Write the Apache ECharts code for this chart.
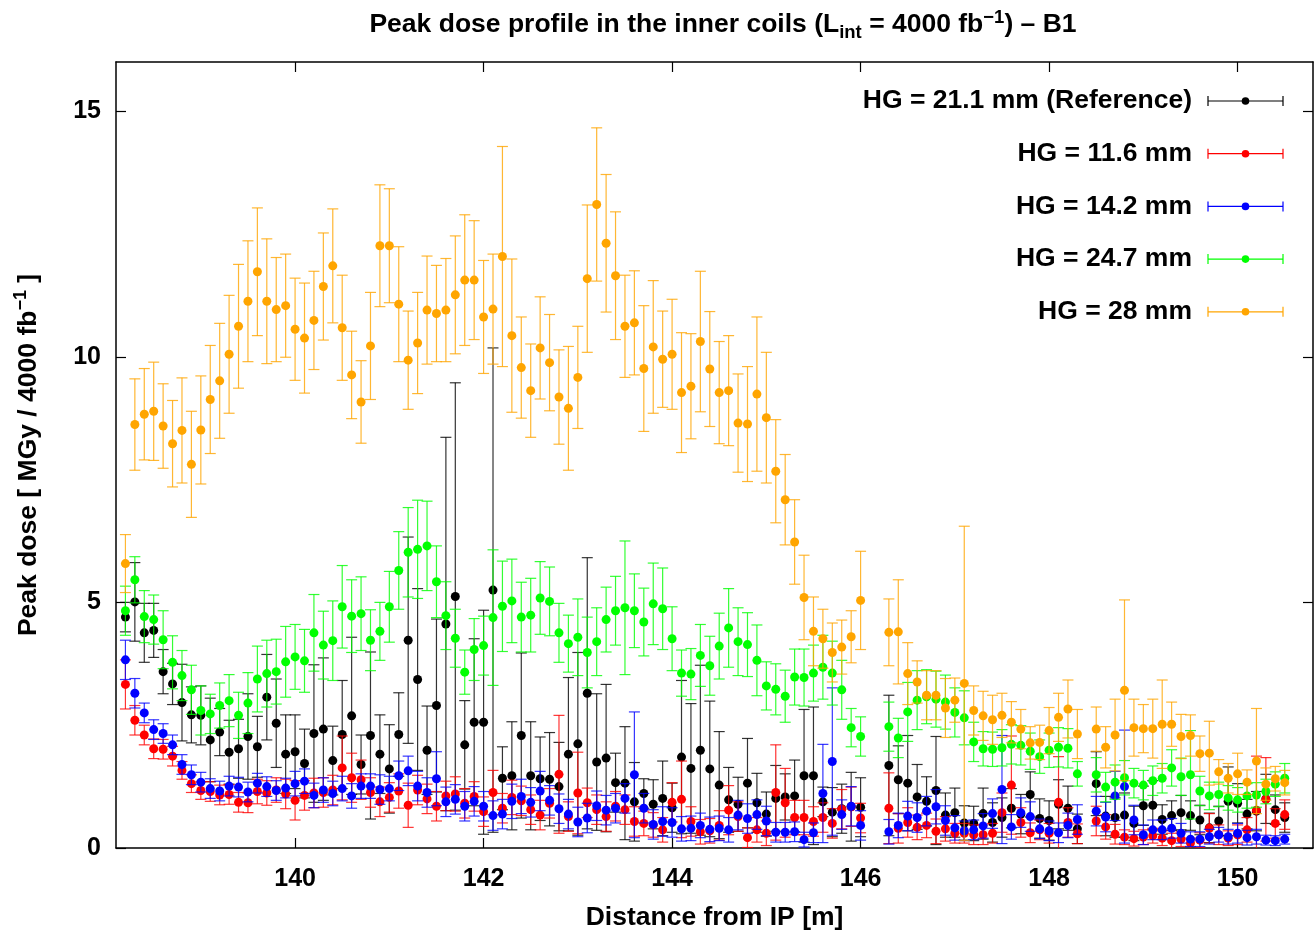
<!DOCTYPE html>
<html>
<head>
<meta charset="utf-8">
<title>Peak dose profile - B1</title>
<script src="https://cdn.jsdelivr.net/npm/echarts@6/dist/echarts.min.js"></script>
<style>
  html, body { margin: 0; padding: 0; background: #fff; }
  #main { width: 1315px; height: 931px; }
</style>
</head>
<body>
<div id="main"></div>
<script>
// bin centres along the beam line [m]
const positions = [
  138.2, 138.3, 138.4, 138.5, 138.6, 138.7, 138.8, 138.9, 139.0, 139.1,
  139.2, 139.3, 139.4, 139.5, 139.6, 139.7, 139.8, 139.9, 140.0, 140.1,
  140.2, 140.3, 140.4, 140.5, 140.6, 140.7, 140.8, 140.9, 141.0, 141.1,
  141.2, 141.3, 141.4, 141.5, 141.6, 141.7, 141.8, 141.9, 142.0, 142.1,
  142.2, 142.3, 142.4, 142.5, 142.6, 142.7, 142.8, 142.9, 143.0, 143.1,
  143.2, 143.3, 143.4, 143.5, 143.6, 143.7, 143.8, 143.9, 144.0, 144.1,
  144.2, 144.3, 144.4, 144.5, 144.6, 144.7, 144.8, 144.9, 145.0, 145.1,
  145.2, 145.3, 145.4, 145.5, 145.6, 145.7, 145.8, 145.9, 146.0,
  146.3, 146.4, 146.5, 146.6, 146.7, 146.8, 146.9, 147.0, 147.1, 147.2,
  147.3, 147.4, 147.5, 147.6, 147.7, 147.8, 147.9, 148.0, 148.1, 148.2, 148.3,
  148.5, 148.6, 148.7, 148.8, 148.9, 149.0, 149.1, 149.2, 149.3, 149.4,
  149.5, 149.6, 149.7, 149.8, 149.9, 150.0, 150.1, 150.2, 150.3, 150.4, 150.5
]

// HG = 21.1 mm (Reference)
const blackDose = [
  4.70, 5.01, 4.38, 4.43, 3.59, 3.34, 2.96, 2.71, 2.70, 2.20,
  2.36, 1.95, 2.02, 2.27, 2.06, 3.07, 2.54, 1.91, 1.96, 1.72,
  2.33, 2.42, 1.78, 2.31, 2.69, 1.70, 2.29, 1.91, 1.61, 2.31,
  4.23, 3.43, 1.99, 2.90, 4.56, 5.12, 2.10, 2.56, 2.56, 5.25,
  1.42, 1.47, 2.29, 1.47, 1.41, 1.40, 1.25, 1.91, 2.12, 3.15,
  1.75, 1.83, 1.33, 1.32, 0.94, 1.11, 0.89, 1.01, 0.82, 1.85,
  1.62, 1.99, 1.61, 1.28, 0.98, 0.89, 1.32, 0.92, 0.69, 1.01,
  1.04, 1.06, 1.47, 1.47, 0.94, 0.73, 0.80, 0.84, 0.83,
  1.68, 1.39, 1.32, 1.04, 0.95, 1.17, 0.67, 0.72, 0.51, 0.50,
  0.70, 0.52, 0.62, 0.81, 0.69, 1.09, 0.60, 0.56, 0.89, 0.81, 0.39,
  1.31, 0.65, 0.62, 0.67, 0.50, 0.86, 0.87, 0.58, 0.66, 0.72,
  0.66, 0.57, 0.41, 0.55, 0.95, 0.91, 0.69, 0.75, 1.00, 0.78, 0.62
]
const blackErr = [
  0.30, 0.80, 0.60, 0.55, 0.45, 0.42, 0.78, 0.57, 0.60, 0.85,
  0.48, 0.65, 0.60, 0.87, 0.62, 0.87, 0.90, 0.80, 0.75, 0.70,
  1.40, 1.45, 0.70, 1.10, 1.60, 0.60, 1.70, 0.80, 0.90, 0.85,
  2.10, 1.85, 0.90, 1.76, 3.80, 4.35, 0.90, 1.70, 2.28, 4.93,
  0.64, 1.10, 1.68, 1.10, 0.85, 0.95, 0.90, 1.56, 1.86, 2.76,
  1.39, 1.50, 0.60, 1.15, 0.80, 0.30, 0.50, 0.76, 0.50, 1.56,
  1.32, 1.73, 1.38, 1.09, 0.66, 0.55, 0.91, 0.60, 0.45, 0.67,
  0.47, 0.73, 1.35, 1.40, 0.30, 0.50, 0.50, 0.70, 0.60,
  1.43, 0.69, 0.97, 0.66, 0.50, 1.10, 0.45, 0.50, 0.35, 0.35,
  0.52, 0.40, 0.40, 0.40, 0.40, 0.46, 0.40, 0.40, 0.50, 0.45, 0.30,
  0.65, 0.40, 0.40, 0.45, 0.35, 0.40, 0.50, 0.30, 0.30, 0.35,
  0.30, 0.30, 0.30, 0.30, 0.70, 0.40, 0.30, 0.40, 0.50, 0.30, 0.30
]

// HG = 11.6 mm
const redDose = [
  3.33, 2.60, 2.30, 2.02, 2.01, 1.87, 1.58, 1.31, 1.17, 1.15,
  1.08, 1.09, 0.93, 0.92, 1.15, 1.12, 1.18, 1.10, 0.97, 1.07,
  1.12, 1.13, 1.18, 1.63, 1.43, 1.39, 1.13, 0.94, 1.03, 1.16,
  0.87, 1.18, 1.00, 0.85, 1.06, 1.10, 0.91, 1.05, 0.74, 1.13,
  0.81, 1.03, 0.96, 0.78, 0.67, 0.91, 1.50, 0.64, 1.12, 0.92,
  0.78, 0.64, 0.85, 0.78, 0.54, 0.50, 0.47, 0.37, 0.93, 0.99,
  0.54, 0.33, 0.35, 0.46, 0.77, 0.64, 0.21, 0.37, 0.30, 1.13,
  0.92, 0.62, 0.62, 0.54, 0.62, 0.50, 0.79, 0.84, 0.61,
  0.81, 0.40, 0.52, 0.42, 0.46, 0.34, 0.39, 0.30, 0.30, 0.27,
  0.27, 0.30, 0.72, 1.28, 0.52, 0.31, 0.37, 0.30, 0.93, 0.52, 0.29,
  0.55, 0.43, 0.28, 0.22, 0.19, 0.22, 0.25, 0.20, 0.15, 0.18,
  0.10, 0.16, 0.40, 0.27, 0.20, 0.27, 0.37, 0.77, 0.99, 0.50, 0.68
]
const redErr = [
  0.50, 0.30, 0.20, 0.20, 0.20, 0.20, 0.18, 0.18, 0.18, 0.20,
  0.20, 0.20, 0.20, 0.20, 0.25, 0.25, 0.25, 0.30, 0.40, 0.30,
  0.30, 0.30, 0.30, 0.65, 0.50, 0.40, 0.30, 0.30, 0.30, 0.35,
  0.45, 0.30, 0.30, 0.30, 0.30, 0.35, 0.30, 0.30, 0.30, 0.45,
  0.30, 0.35, 0.30, 0.30, 0.30, 0.30, 1.20, 0.30, 0.83, 0.30,
  0.30, 0.30, 0.30, 0.30, 0.30, 0.25, 0.25, 0.25, 0.40, 0.78,
  0.30, 0.25, 0.25, 0.30, 0.50, 0.30, 0.20, 0.25, 0.25, 0.97,
  0.70, 0.35, 0.35, 0.30, 0.30, 0.30, 0.40, 0.40, 0.30,
  0.72, 0.30, 0.30, 0.25, 0.25, 0.25, 0.25, 0.20, 0.20, 0.20,
  0.20, 0.20, 0.40, 1.00, 0.30, 0.20, 0.20, 0.20, 0.93, 0.30, 0.20,
  0.30, 0.25, 0.20, 0.15, 0.15, 0.15, 0.15, 0.15, 0.15, 0.15,
  0.10, 0.15, 0.30, 0.20, 0.15, 0.20, 0.25, 1.10, 0.85, 0.30, 0.30
]

// HG = 14.2 mm
const blueDose = [
  3.83, 3.15, 2.75, 2.41, 2.33, 2.10, 1.70, 1.49, 1.34, 1.21,
  1.16, 1.26, 1.24, 1.14, 1.32, 1.25, 1.17, 1.22, 1.31, 1.36,
  1.07, 1.18, 1.11, 1.21, 1.06, 1.26, 1.26, 1.19, 1.21, 1.47,
  1.57, 1.26, 1.13, 1.41, 0.94, 0.99, 0.85, 0.95, 0.85, 0.66,
  0.69, 0.95, 1.05, 0.93, 1.16, 0.97, 0.80, 0.69, 0.53, 0.61,
  0.86, 0.77, 0.81, 1.01, 1.49, 0.81, 0.48, 0.54, 0.52, 0.39,
  0.40, 0.46, 0.38, 0.40, 0.37, 0.67, 0.60, 0.68, 0.55, 0.32,
  0.32, 0.33, 0.17, 0.31, 1.11, 1.76, 0.68, 0.85, 0.46,
  0.33, 0.46, 0.65, 0.62, 0.75, 0.84, 0.56, 0.41, 0.35, 0.37,
  0.45, 0.70, 1.19, 0.43, 0.72, 0.64, 0.39, 0.35, 0.31, 0.46, 0.58,
  0.75, 0.63, 1.06, 1.25, 0.57, 0.27, 0.37, 0.37, 0.40, 0.30,
  0.18, 0.18, 0.23, 0.27, 0.23, 0.30, 0.21, 0.23, 0.16, 0.15, 0.18
]
const blueErr = [
  0.40, 0.30, 0.20, 0.20, 0.20, 0.20, 0.20, 0.20, 0.20, 0.20,
  0.20, 0.20, 0.20, 0.20, 0.20, 0.20, 0.20, 0.20, 0.25, 0.25,
  0.25, 0.25, 0.25, 0.25, 0.25, 0.25, 0.25, 0.30, 0.25, 0.30,
  0.30, 0.30, 0.30, 0.55, 0.30, 0.30, 0.30, 0.30, 0.30, 0.30,
  0.30, 0.35, 0.35, 0.30, 0.40, 0.30, 0.30, 0.30, 0.30, 0.30,
  0.30, 0.30, 0.30, 0.30, 1.28, 0.30, 0.30, 0.30, 0.30, 0.25,
  0.25, 0.25, 0.25, 0.25, 0.25, 0.30, 0.30, 0.30, 0.30, 0.20,
  0.20, 0.20, 0.15, 0.20, 1.00, 1.50, 0.30, 0.40, 0.30,
  0.25, 0.25, 0.30, 0.30, 0.30, 0.35, 0.30, 0.25, 0.20, 0.20,
  0.25, 0.30, 1.10, 0.25, 0.30, 0.30, 0.20, 0.20, 0.20, 0.25, 0.30,
  0.30, 0.30, 0.50, 1.15, 0.30, 0.20, 0.20, 0.20, 0.20, 0.20,
  0.15, 0.15, 0.15, 0.15, 0.15, 0.20, 0.15, 0.15, 0.10, 0.10, 0.10
]

// HG = 24.7 mm
const greenDose = [
  4.83, 5.46, 4.71, 4.65, 4.24, 3.78, 3.51, 3.22, 2.80, 2.73,
  2.90, 3.00, 2.70, 2.95, 3.44, 3.55, 3.59, 3.79, 3.89, 3.81,
  4.38, 4.13, 4.22, 4.91, 4.72, 4.77, 4.23, 4.41, 4.91, 5.65,
  6.02, 6.08, 6.15, 5.42, 4.73, 4.27, 3.58, 4.04, 4.12, 4.69,
  4.92, 5.03, 4.70, 4.74, 5.09, 5.02, 4.38, 4.16, 4.29, 3.98,
  4.20, 4.65, 4.83, 4.89, 4.83, 4.60, 4.97, 4.87, 4.26, 3.56,
  3.54, 3.92, 3.71, 4.11, 4.48, 4.20, 4.14, 3.82, 3.30, 3.23,
  3.09, 3.48, 3.47, 3.56, 3.68, 3.56, 3.22, 2.45, 2.27,
  2.47, 2.24, 2.77, 3.01, 3.08, 3.03, 2.97, 2.76, 2.65, 2.16,
  2.02, 2.01, 2.04, 2.11, 2.09, 1.97, 1.86, 1.99, 2.05, 2.03, 1.51,
  1.49, 1.24, 1.34, 1.43, 1.32, 1.28, 1.37, 1.42, 1.63, 1.45,
  1.49, 1.16, 1.06, 1.09, 1.02, 0.98, 1.06, 1.08, 1.15, 1.30, 1.42
]
const greenErr = [
  0.50, 0.47, 0.53, 0.50, 0.59, 0.54, 0.51, 0.50, 0.50, 0.40,
  0.46, 0.53, 0.47, 0.62, 0.67, 0.68, 0.66, 0.72, 0.66, 0.64,
  0.78, 0.69, 0.81, 0.84, 0.74, 0.75, 0.62, 0.59, 0.72, 0.79,
  0.91, 1.00, 0.91, 0.73, 0.69, 0.59, 0.45, 0.63, 0.60, 1.38,
  0.92, 0.85, 0.71, 0.75, 0.74, 0.70, 0.60, 0.58, 0.78, 0.72,
  0.69, 0.66, 0.70, 1.36, 0.75, 0.69, 0.83, 0.83, 0.65, 0.47,
  0.52, 0.63, 0.60, 0.67, 0.80, 0.69, 0.65, 0.72, 0.49, 0.52,
  0.53, 0.57, 0.58, 0.57, 0.65, 0.65, 0.60, 0.39, 0.40,
  0.50, 0.40, 0.60, 0.60, 0.55, 0.57, 0.55, 0.50, 0.55, 0.40,
  0.35, 0.35, 0.37, 0.40, 0.40, 0.37, 0.34, 0.35, 0.40, 0.40, 0.25,
  0.35, 0.30, 0.35, 0.35, 0.30, 0.30, 0.30, 0.30, 0.37, 0.38,
  0.90, 0.30, 0.28, 0.25, 0.25, 0.25, 0.25, 0.25, 0.25, 0.25, 0.30
]

// HG = 28 mm
const orangeDose = [
  5.79, 8.62, 8.83, 8.89, 8.59, 8.23, 8.50, 7.81, 8.51, 9.13,
  9.51, 10.05, 10.62, 11.13, 11.73, 11.13, 10.96, 11.04, 10.56, 10.38,
  10.74, 11.43, 11.85, 10.59, 9.63, 9.08, 10.22, 12.26, 12.26, 11.07,
  9.93, 10.28, 10.95, 10.88, 10.95, 11.26, 11.56, 11.56, 10.81, 10.97,
  12.04, 10.43, 9.78, 9.31, 10.18, 9.88, 9.18, 8.95, 9.58, 11.59,
  13.10, 12.31, 11.65, 10.62, 10.69, 9.76, 10.20, 9.95, 10.05, 9.27,
  9.40, 10.31, 9.75, 9.27, 9.31, 8.65, 8.63, 9.24, 8.76, 7.67,
  7.09, 6.23, 5.10, 4.41, 4.26, 3.98, 4.09, 4.30, 5.04,
  4.39, 4.40, 3.55, 3.38, 3.11, 3.11, 2.85, 3.01, 3.35, 2.80,
  2.69, 2.61, 2.70, 2.56, 2.42, 2.14, 2.15, 2.39, 2.66, 2.83, 2.32,
  2.42, 2.05, 2.30, 3.21, 2.45, 2.43, 2.43, 2.52, 2.52, 2.27,
  2.29, 1.92, 1.93, 1.55, 1.42, 1.51, 1.34, 1.77, 1.30, 1.41, 1.33
]
const orangeErr = [
  0.59, 0.93, 0.93, 1.00, 0.86, 0.88, 1.07, 1.08, 1.10, 1.10,
  1.17, 1.20, 1.26, 1.23, 1.30, 1.27, 1.06, 1.05, 1.04, 1.12,
  1.00, 1.09, 1.16, 1.07, 0.89, 0.84, 1.09, 1.24, 1.16, 1.17,
  1.00, 1.03, 1.10, 0.98, 1.05, 1.20, 1.33, 1.21, 1.15, 1.12,
  2.24, 1.56, 1.03, 0.95, 1.04, 0.98, 0.96, 1.26, 1.04, 1.50,
  1.56, 1.40, 1.30, 1.04, 1.06, 1.28, 1.35, 0.98, 1.12, 1.22,
  1.07, 1.43, 1.17, 1.04, 1.12, 1.00, 1.17, 1.57, 1.33, 1.05,
  0.92, 0.86, 0.86, 0.70, 0.60, 0.60, 0.55, 0.53, 1.00,
  0.68, 1.06, 0.63, 0.43, 0.50, 0.50, 0.60, 0.45, 3.20, 0.50,
  0.50, 0.50, 0.45, 0.42, 0.40, 0.33, 0.35, 0.47, 0.49, 0.59, 0.50,
  0.45, 0.42, 0.73, 1.84, 0.58, 0.49, 0.60, 0.90, 0.45, 0.45,
  0.42, 0.36, 0.65, 0.25, 0.30, 0.42, 0.25, 1.07, 0.33, 0.25, 0.25
]

const seriesNames = [
  'HG = 21.1 mm (Reference)',
  'HG = 11.6 mm',
  'HG = 14.2 mm',
  'HG = 24.7 mm',
  'HG = 28 mm'
]
const seriesColors = ['#000000', '#ff0000', '#0000ff', '#00ff00', '#ffa500']
const xTicks = [140, 142, 144, 146, 148, 150]
const yTicks = [0, 5, 10, 15]

const font = '"Liberation Sans", Arial, Helvetica, sans-serif'

function toPoints(dose, err) {
  return positions.map((x, i) => [x, dose[i], err[i]])
}

// one point with vertical error bar and caps, gnuplot style
function renderErrorBar(params, api) {
  const x = api.value(0)
  const y = api.value(1)
  const e = api.value(2)
  const color = api.visual('color')
  const c = api.coord([x, y])
  const hi = api.coord([x, y + e])
  const lo = api.coord([x, Math.max(y - e, 0)])
  const cap = 5.5
  const barStyle = () => ({ stroke: color, lineWidth: 1.2, opacity: 0.8 })
  const children = [
    { type: 'line', shape: { x1: c[0], y1: hi[1], x2: c[0], y2: lo[1] }, style: barStyle() },
    { type: 'line', shape: { x1: c[0] - cap, y1: hi[1], x2: c[0] + cap, y2: hi[1] }, style: barStyle() }
  ]
  if (y - e > 0) {
    children.push({ type: 'line', shape: { x1: c[0] - cap, y1: lo[1], x2: c[0] + cap, y2: lo[1] }, style: barStyle() })
  }
  children.push({ type: 'circle', shape: { cx: c[0], cy: c[1], r: 4.5 }, style: { fill: color } })
  return { type: 'group', children: children }
}

const allData = [
  toPoints(blackDose, blackErr),
  toPoints(redDose, redErr),
  toPoints(blueDose, blueErr),
  toPoints(greenDose, greenErr),
  toPoints(orangeDose, orangeErr)
]

// legend drawn by hand: right aligned text with an error bar sample
const legendItems = []
seriesNames.forEach((name, i) => {
  const y = 101 + i * 52.7
  const color = seriesColors[i]
  legendItems.push(
    { type: 'text', style: { text: name, x: 1192, y: y, align: 'right', verticalAlign: 'middle', textAlign: 'right', textVerticalAlign: 'middle', font: 'bold 26.5px ' + font, fill: '#000' } },
    { type: 'line', shape: { x1: 1208, y1: y, x2: 1283, y2: y }, style: { stroke: color, lineWidth: 1.2 } },
    { type: 'line', shape: { x1: 1208, y1: y - 5, x2: 1208, y2: y + 5 }, style: { stroke: color, lineWidth: 1.2 } },
    { type: 'line', shape: { x1: 1283, y1: y - 5, x2: 1283, y2: y + 5 }, style: { stroke: color, lineWidth: 1.2 } },
    { type: 'circle', shape: { cx: 1245.5, cy: y, r: 3.8 }, style: { fill: color } }
  )
})

const axisLineStyle = { color: '#000', width: 1.5 }
const tickStyle = { color: '#000', width: 1.2 }

const myChart = echarts.init(document.getElementById('main'), null, { renderer: 'canvas' })
const options = {
  animation: false,
  backgroundColor: '#fff',
  title: {
    text: '{t|Peak dose profile in the inner coils (L}{sub|int}{t| = 4000 fb}{sup|−1}{t|) – B1}',
    left: 718,
    top: 3,
    textAlign: 'center',
    textStyle: {
      rich: {
        t: { fontSize: 26.5, fontWeight: 'bold', fontFamily: font, color: '#000', lineHeight: 34 },
        sub: { fontSize: 18.5, fontWeight: 'bold', fontFamily: font, color: '#000', lineHeight: 16, verticalAlign: 'bottom' },
        sup: { fontSize: 18.5, fontWeight: 'bold', fontFamily: font, color: '#000', lineHeight: 16, verticalAlign: 'top' }
      }
    }
  },
  grid: { left: 116, right: 2, top: 62, bottom: 83, show: false, outerBoundsMode: 'none', containLabel: false },
  xAxis: [{
    type: 'value',
    min: 138.1,
    max: 150.8,
    position: 'bottom',
    axisLine: { onZero: false, lineStyle: axisLineStyle },
    axisTick: { inside: true, length: 10, customValues: xTicks, lineStyle: tickStyle },
    axisLabel: { customValues: xTicks, fontSize: 25, fontWeight: 'bold', fontFamily: font, color: '#000', margin: 19 },
    splitLine: { show: false },
    name: 'Distance from IP [m]',
    nameLocation: 'middle',
    nameGap: 56,
    nameTextStyle: { fontSize: 26.5, fontWeight: 'bold', fontFamily: font, color: '#000' }
  }, {
    type: 'value',
    min: 138.1,
    max: 150.8,
    position: 'top',
    axisLine: { onZero: false, lineStyle: axisLineStyle },
    axisTick: { inside: true, length: 10, customValues: xTicks, lineStyle: tickStyle },
    axisLabel: { show: false },
    splitLine: { show: false }
  }],
  yAxis: [{
    type: 'value',
    min: 0,
    max: 16,
    position: 'left',
    axisLine: { show: true, onZero: false, lineStyle: axisLineStyle },
    axisTick: { show: true, inside: true, length: 10, customValues: yTicks, lineStyle: tickStyle },
    axisLabel: { customValues: yTicks, fontSize: 25, fontWeight: 'bold', fontFamily: font, color: '#000', margin: 15 },
    splitLine: { show: false },
    name: '{t|Peak dose [ MGy / 4000 fb}{sup|−1}{t| ]}',
    nameLocation: 'middle',
    nameGap: 70,
    nameTextStyle: {
      rich: {
        t: { fontSize: 26.5, fontWeight: 'bold', fontFamily: font, color: '#000', lineHeight: 34 },
        sup: { fontSize: 18, fontWeight: 'bold', fontFamily: font, color: '#000', lineHeight: 16, verticalAlign: 'top' }
      }
    }
  }, {
    type: 'value',
    min: 0,
    max: 16,
    position: 'right',
    axisLine: { show: true, onZero: false, lineStyle: axisLineStyle },
    axisTick: { show: true, inside: true, length: 10, customValues: yTicks, lineStyle: tickStyle },
    axisLabel: { show: false },
    splitLine: { show: false }
  }],
  graphic: legendItems,
  series: allData.map((data, i) => ({
    type: 'custom',
    name: seriesNames[i],
    xAxisIndex: 0,
    yAxisIndex: 0,
    clip: true,
    itemStyle: { color: seriesColors[i] },
    encode: { x: 0, y: 1 },
    renderItem: renderErrorBar,
    data: data
  }))
}

myChart.setOption(options)
</script>
</body>
</html>
